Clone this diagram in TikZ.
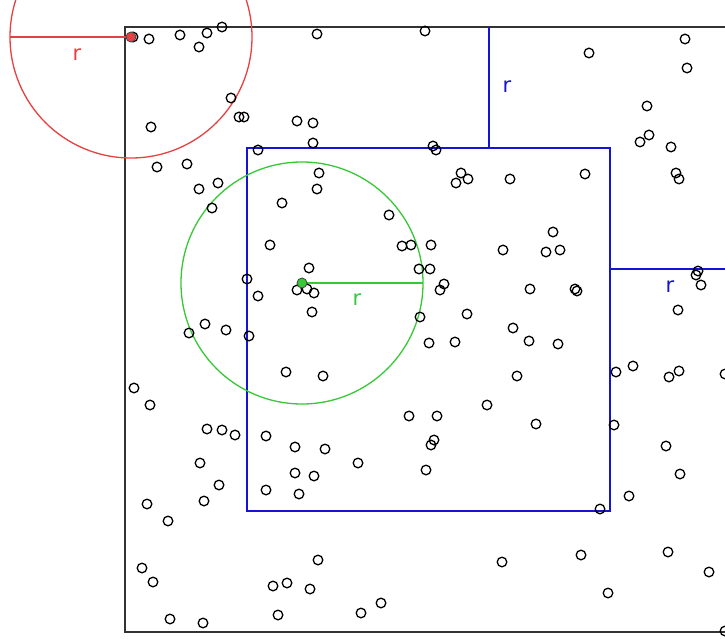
\documentclass[tikz,border=0pt]{standalone}
\usepackage{fontspec}
\setmainfont{DejaVu Sans}
\definecolor{rcol}{RGB}{232,64,64}
\definecolor{gcol}{RGB}{55,200,55}
\definecolor{bcol}{RGB}{20,20,210}
\tikzset{
  pt/.style={draw=black, line width=1.3pt},
  rlabel/.style={font=\fontsize{21}{24}\selectfont},
}
\begin{document}
\begin{tikzpicture}[x=1pt, y=-1pt]
        \useasboundingbox (0,0) rectangle (725,639);
        \clip (0,0) rectangle (725,639);
        % outer window
        \draw[color=black!80, line width=1.6pt] (125,27) -- (730,27) -- (730,632) -- (125,632) -- cycle;

        % inner square and its offsets
        \draw[color=bcol, line width=1.6pt] (247,148) -- (610,148) -- (610,511) -- (247,511) -- cycle;
        \draw[color=bcol, line width=1.6pt] (489,27) -- (489,148);
        \draw[color=bcol, line width=1.6pt] (610,269) -- (730,269);
        \node[rlabel, text=bcol] at (507,87) {r};
        \node[rlabel, text=bcol] at (670,287) {r};

        % corner point with its circle
        \draw[color=rcol, line width=1.3pt] (131,37) circle (121pt);
        \draw[color=rcol, line width=1.6pt] (10,37) -- (131,37);
        \node[rlabel, text=rcol] at (77,55) {r};

        % inner point with its circle
        \draw[color=gcol, line width=1.3pt] (302,283) circle (121pt);
        \draw[color=gcol, line width=1.6pt] (302,283) -- (423,283);
        \node[rlabel, text=gcol] at (357,300) {r};

        % the points
        \draw[pt] (133,37) circle (4.8pt) (149,39) circle (4.8pt) (180,35) circle (4.8pt) (207,33) circle (4.8pt)
          (222,27) circle (4.8pt) (199,47) circle (4.8pt) (231,98) circle (4.8pt) (239,117) circle (4.8pt)
          (244,117) circle (4.8pt) (151,127) circle (4.8pt) (258,150) circle (4.8pt) (157,167) circle (4.8pt)
          (187,164) circle (4.8pt) (218,183) circle (4.8pt) (199,189) circle (4.8pt) (212,208) circle (4.8pt)
          (317,34) circle (4.8pt) (425,31) circle (4.8pt) (297,121) circle (4.8pt) (313,123) circle (4.8pt)
          (313,143) circle (4.8pt) (433,146) circle (4.8pt) (436,150) circle (4.8pt) (319,173) circle (4.8pt)
          (317,189) circle (4.8pt) (282,203) circle (4.8pt) (389,215) circle (4.8pt) (461,173) circle (4.8pt)
          (468,179) circle (4.8pt) (456,183) circle (4.8pt) (685,39) circle (4.8pt) (589,53) circle (4.8pt)
          (687,68) circle (4.8pt) (647,106) circle (4.8pt) (649,135) circle (4.8pt) (640,142) circle (4.8pt)
          (671,147) circle (4.8pt) (676,173) circle (4.8pt) (679,179) circle (4.8pt) (510,179) circle (4.8pt)
          (585,174) circle (4.8pt);
        \draw[pt] (270,245) circle (4.8pt) (309,268) circle (4.8pt) (247,279) circle (4.8pt) (297,290) circle (4.8pt)
          (307,289) circle (4.8pt) (314,293) circle (4.8pt) (258,296) circle (4.8pt) (312,312) circle (4.8pt)
          (205,324) circle (4.8pt) (189,333) circle (4.8pt) (226,330) circle (4.8pt) (249,336) circle (4.8pt)
          (286,372) circle (4.8pt) (323,376) circle (4.8pt) (134,388) circle (4.8pt) (150,405) circle (4.8pt)
          (402,246) circle (4.8pt) (411,245) circle (4.8pt) (431,245) circle (4.8pt) (419,269) circle (4.8pt)
          (430,269) circle (4.8pt) (444,284) circle (4.8pt) (440,290) circle (4.8pt) (420,317) circle (4.8pt)
          (467,314) circle (4.8pt) (429,343) circle (4.8pt) (455,342) circle (4.8pt) (503,250) circle (4.8pt)
          (553,232) circle (4.8pt) (546,252) circle (4.8pt) (560,250) circle (4.8pt) (530,289) circle (4.8pt)
          (575,289) circle (4.8pt) (577,291) circle (4.8pt) (513,328) circle (4.8pt) (529,341) circle (4.8pt)
          (558,344) circle (4.8pt) (517,376) circle (4.8pt) (487,405) circle (4.8pt) (409,416) circle (4.8pt)
          (437,416) circle (4.8pt) (616,372) circle (4.8pt) (698,271) circle (4.8pt) (696,275) circle (4.8pt)
          (701,285) circle (4.8pt) (678,310) circle (4.8pt) (633,366) circle (4.8pt) (669,377) circle (4.8pt)
          (679,371) circle (4.8pt) (725,374) circle (4.8pt);
        \draw[pt] (207,429) circle (4.8pt) (222,430) circle (4.8pt) (235,435) circle (4.8pt) (266,436) circle (4.8pt)
          (295,447) circle (4.8pt) (325,449) circle (4.8pt) (358,463) circle (4.8pt) (200,463) circle (4.8pt)
          (219,485) circle (4.8pt) (204,501) circle (4.8pt) (295,473) circle (4.8pt) (314,476) circle (4.8pt)
          (266,490) circle (4.8pt) (299,494) circle (4.8pt) (147,504) circle (4.8pt) (168,521) circle (4.8pt)
          (318,560) circle (4.8pt) (142,568) circle (4.8pt) (153,582) circle (4.8pt) (273,586) circle (4.8pt)
          (287,583) circle (4.8pt) (310,589) circle (4.8pt) (170,619) circle (4.8pt) (203,623) circle (4.8pt)
          (278,615) circle (4.8pt) (361,613) circle (4.8pt) (381,603) circle (4.8pt) (434,440) circle (4.8pt)
          (431,445) circle (4.8pt) (536,424) circle (4.8pt) (614,425) circle (4.8pt) (426,470) circle (4.8pt)
          (600,509) circle (4.8pt) (502,562) circle (4.8pt) (581,555) circle (4.8pt) (608,593) circle (4.8pt)
          (666,446) circle (4.8pt) (680,474) circle (4.8pt) (629,496) circle (4.8pt) (668,552) circle (4.8pt)
          (709,572) circle (4.8pt) (725,631) circle (4.8pt);

        % the two marked points
        \filldraw[fill=rcol, draw=black!70, line width=0.9pt] (131,37) circle (5pt);
        \filldraw[fill=gcol, draw=black!70, line width=0.9pt] (302,283) circle (5pt);
\end{tikzpicture}
\end{document}
